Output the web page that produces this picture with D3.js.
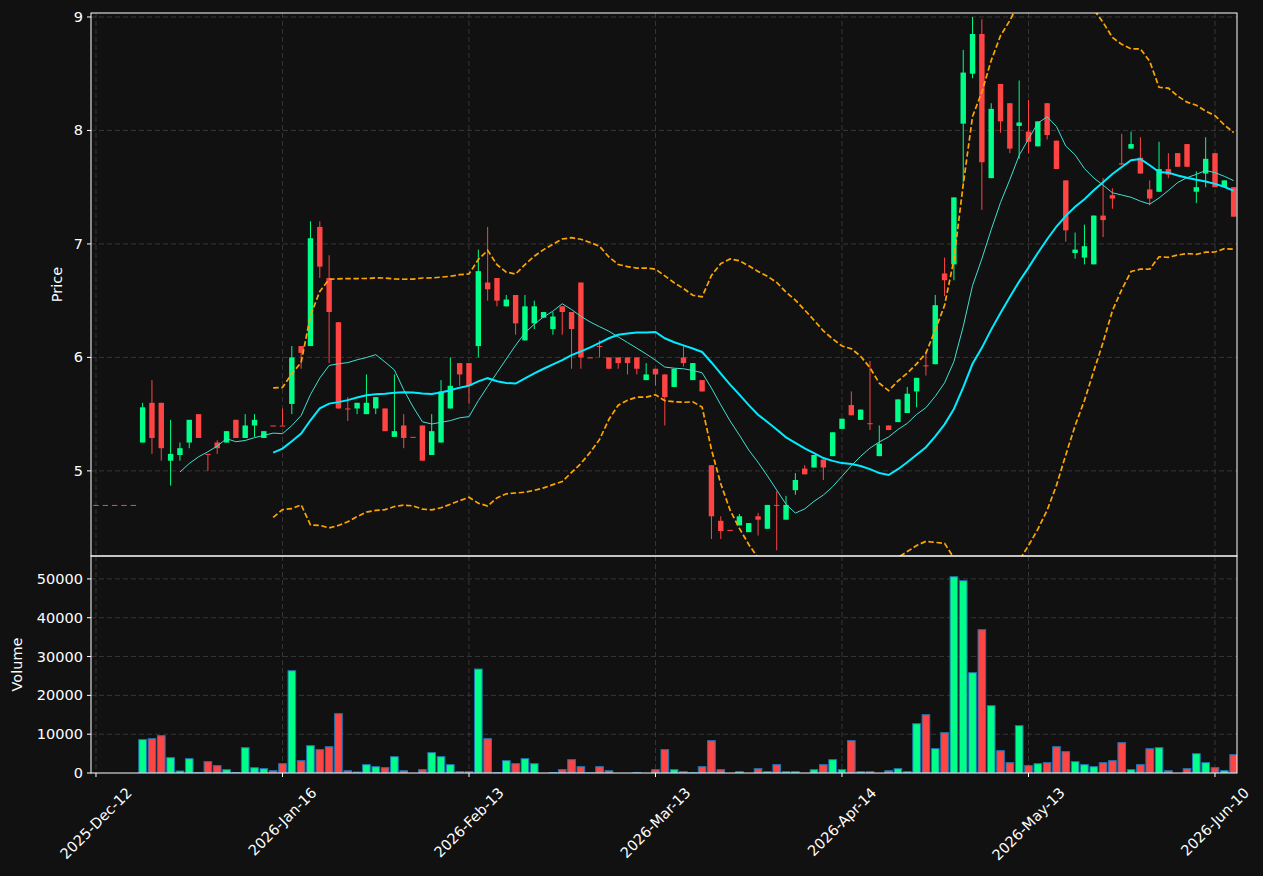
<!DOCTYPE html>
<html>
<head>
<meta charset="utf-8">
<script src="https://cdn.jsdelivr.net/npm/d3@7"></script>
<style>
  html, body { margin: 0; padding: 0; background: #111111; }
  svg { display: block; }
</style>
</head>
<body>
<svg id="chart" width="1263" height="876"></svg>
<script>
// ---------------- DATA ----------------
const xTickIndex = [0, 20, 40, 60, 80, 100, 120];
const xTickLabels = ["2025-Dec-12", "2026-Jan-16", "2026-Feb-13", "2026-Mar-13", "2026-Apr-14", "2026-May-13", "2026-Jun-10"];
const priceTicks = [5, 6, 7, 8, 9];
const volumeTicks = [0, 10000, 20000, 30000, 40000, 50000];

const opens = [4.70,4.70,4.70,4.70,4.70, 5.25,5.60,5.60,5.09,5.14, 5.25,5.50,5.15,5.25,5.25, 5.45,5.29,5.40,5.29,5.40,
  5.40,5.59,6.10,6.10,7.15, 6.70,6.31,5.55,5.55,5.50, 5.55,5.55,5.30,5.40,5.30, 5.40,5.14,5.25,5.55,5.95,
  5.95,6.10,6.66,6.70,6.45, 6.55,6.15,6.30,6.35,6.25, 6.45,6.40,6.66,6.00,6.10, 6.00,6.00,6.00,6.00,5.80,
  5.90,5.85,5.74,6.00,5.80, 5.80,5.05,4.56,4.48,4.52, 4.46,4.60,4.49,4.70,4.57, 4.83,5.02,5.03,5.10,5.13,
  5.37,5.58,5.45,5.42,5.13, 5.40,5.43,5.51,5.70,5.93, 5.94,6.74,6.82,8.06,8.50, 8.85,7.58,8.41,8.24,8.04,
  7.99,7.86,8.24,7.91,7.56, 6.92,6.88,6.82,7.25,7.43, 7.71,7.84,7.76,7.48,7.46, 7.66,7.80,7.88,7.46,7.62,
  7.80,7.50,7.50];
const highs = [4.70,4.70,4.70,4.70,4.70, 5.60,5.80,5.60,5.45,5.25, 5.45,5.50,5.15,5.27,5.35, 5.45,5.50,5.50,5.35,5.40,
  5.55,6.10,6.10,7.20,7.20, 6.90,6.31,5.65,5.60,5.85, 5.65,5.55,5.85,5.50,5.30, 5.40,5.50,5.80,6.00,5.95,
  5.95,6.95,7.15,6.70,6.55, 6.55,6.55,6.50,6.40,6.40, 6.45,6.40,6.66,6.00,6.15, 6.00,6.00,6.00,6.00,5.95,
  5.90,5.85,5.90,6.10,5.95, 5.80,5.05,4.60,4.48,4.62, 4.54,4.63,4.70,4.82,4.78, 4.98,5.05,5.14,5.10,5.34,
  5.46,5.70,5.54,5.97,5.40, 5.40,5.63,5.74,5.82,6.05, 6.55,6.88,7.41,8.71,9.00, 8.98,8.24,8.41,8.24,8.44,
  8.27,8.08,8.24,7.91,7.56, 7.10,7.17,7.25,7.58,7.49, 7.97,7.99,7.94,7.56,7.90, 7.80,7.80,7.88,7.64,7.94,
  7.80,7.56,7.50];
const lows = [4.70,4.70,4.70,4.70,4.70, 5.25,5.15,5.09,4.87,5.09, 5.20,5.29,5.00,5.15,5.25, 5.29,5.29,5.30,5.29,5.40,
  5.40,5.50,5.90,6.10,6.70, 5.95,5.55,5.44,5.50,5.50, 5.50,5.35,5.30,5.20,5.30, 5.09,5.14,5.25,5.55,5.75,
  5.59,6.00,6.50,6.45,6.45, 6.20,6.15,6.25,6.35,6.20, 6.20,5.90,5.90,6.00,6.00, 5.90,5.90,5.85,5.85,5.80,
  5.75,5.40,5.74,5.92,5.80, 5.70,4.40,4.40,4.48,4.52, 4.46,4.43,4.49,4.30,4.57, 4.79,4.97,5.03,4.92,5.13,
  5.37,5.49,5.45,5.36,5.13, 5.36,5.43,5.51,5.56,5.84, 5.94,6.54,6.68,7.54,8.46, 7.30,7.58,7.98,7.80,7.75,
  7.80,7.86,7.92,7.66,7.02, 6.87,6.82,6.82,7.06,7.31, 7.70,7.84,7.62,7.34,7.46, 7.58,7.68,7.68,7.36,7.50,
  7.50,7.50,7.24];
const closes = [4.70,4.70,4.70,4.70,4.70, 5.56,5.29,5.20,5.15,5.20, 5.45,5.29,5.15,5.20,5.35, 5.29,5.40,5.45,5.35,5.40,
  5.40,6.00,6.04,7.05,6.80, 6.40,5.55,5.55,5.60,5.60, 5.65,5.35,5.35,5.29,5.30, 5.09,5.35,5.70,5.75,5.85,
  5.75,6.76,6.60,6.50,6.51, 6.30,6.45,6.45,6.40,6.36, 6.40,6.25,6.00,6.00,6.10, 5.90,5.95,5.95,5.90,5.85,
  5.85,5.65,5.90,5.95,5.95, 5.70,4.60,4.47,4.48,4.60, 4.54,4.57,4.70,4.70,4.70, 4.92,4.97,5.14,5.03,5.34,
  5.46,5.49,5.54,5.42,5.24, 5.36,5.63,5.68,5.82,5.93, 6.46,6.68,7.41,8.51,8.85, 7.72,8.19,8.08,7.84,8.07,
  7.90,8.08,7.96,7.66,7.12, 6.95,6.98,7.25,7.21,7.40, 7.70,7.88,7.62,7.40,7.66, 7.61,7.68,7.68,7.50,7.75,
  7.50,7.56,7.24];
const volumes = [0,0,0,0,0, 8600,8840,9610,3950,515, 3690,150,2920,1890,860, 100,6520,1370,1120,600,
  2400,26350,3180,7040,6010, 6780,15280,600,260,2150, 1630,1370,4200,600,0, 860,5240,4200,2150,340,
  340,26780,8840,90,3180, 2400,3690,2400,0,80, 860,3430,1630,50,1630, 600,0,0,80,0,
  860,6010,860,340,90, 1630,8330,860,0,340, 0,1120,340,2150,340, 340,0,860,2150,3430,
  860,8330,340,340,0, 600,1120,340,12700,15020, 6270,10390,50560,49530,25840, 36910,17340,5750,2660,12190,
  1890,2400,2660,6780,5490, 2920,2150,1630,2660,3180, 7810,860,2150,6270,6520, 600,0,1120,4980,2660,
  1370,600,4720];

// ---------------- LAYOUT ----------------
const W = 1263, H = 876;
const L = 91, R = 1237;
const pTop = 13, pBot = 556, vTop = 556, vBot = 773;
const UP = "#00ff88", DOWN = "#ff4444";
const TXT = "#ffffff", GRID = "#404040";
const FS = 14.5;

const svg = d3.select("#chart");
svg.append("rect").attr("width", W).attr("height", H).attr("fill", "#111111");

const n = closes.length;
const x = d3.scaleLinear().domain([-0.536, 122.36]).range([L, R]);
const pitch = x(1) - x(0);
const yP = d3.scaleLinear().domain([4.25, 9.035]).range([pBot, pTop]);
const yV = d3.scaleLinear().domain([0, 55900]).range([vBot, vTop]);

// indicators derived from closes
function rolling(win, fn) {
  return closes.map((c, i) => i < win - 1 ? null : fn(closes.slice(i - win + 1, i + 1)));
}
const ma10 = rolling(10, a => d3.mean(a));
const ma20 = rolling(20, a => d3.mean(a));
const sd20 = rolling(20, a => { const m = d3.mean(a); return Math.sqrt(d3.mean(a, v => (v - m) * (v - m))); });
const upper = ma20.map((m, i) => m == null ? null : m + 2 * sd20[i]);
const lower = ma20.map((m, i) => m == null ? null : m - 2 * sd20[i]);

// clip paths
const defs = svg.append("defs");
defs.append("clipPath").attr("id", "clipP").append("rect")
  .attr("x", L).attr("y", pTop).attr("width", R - L).attr("height", pBot - pTop);
defs.append("clipPath").attr("id", "clipV").append("rect")
  .attr("x", L).attr("y", vTop).attr("width", R - L).attr("height", vBot - vTop);

// grids
const grid = svg.append("g").attr("stroke", GRID).attr("stroke-width", 0.8).attr("stroke-dasharray", "5,3");
priceTicks.forEach(t => grid.append("line").attr("x1", L).attr("x2", R).attr("y1", yP(t)).attr("y2", yP(t)));
volumeTicks.slice(1).forEach(t => grid.append("line").attr("x1", L).attr("x2", R).attr("y1", yV(t)).attr("y2", yV(t)));
xTickIndex.forEach(t => {
  grid.append("line").attr("x1", x(t)).attr("x2", x(t)).attr("y1", pTop).attr("y2", pBot);
  grid.append("line").attr("x1", x(t)).attr("x2", x(t)).attr("y1", vTop).attr("y2", vBot);
});

// candles
const idx = d3.range(n);
const cg = svg.append("g").attr("clip-path", "url(#clipP)");
const colorOf = i => closes[i] > opens[i] ? UP : DOWN;
cg.selectAll("line.wick").data(idx).join("line")
  .attr("x1", i => x(i)).attr("x2", i => x(i))
  .attr("y1", i => yP(highs[i])).attr("y2", i => yP(lows[i]))
  .attr("stroke", colorOf).attr("stroke-width", 1);
const bw = pitch * 0.58;
cg.selectAll("rect.body").data(idx).join("rect")
  .attr("x", i => x(i) - bw / 2).attr("width", bw)
  .attr("y", i => yP(Math.max(opens[i], closes[i])))
  .attr("height", i => Math.max(1, Math.abs(yP(opens[i]) - yP(closes[i]))))
  .attr("fill", colorOf);

// indicator lines
const lg = svg.append("g").attr("clip-path", "url(#clipP)").attr("fill", "none");
const lineOf = arr => d3.line().defined(i => arr[i] != null).x(i => x(i)).y(i => yP(arr[i]))(idx);
lg.append("path").attr("d", lineOf(upper)).attr("stroke", "#ffa500").attr("stroke-width", 1.7).attr("stroke-dasharray", "5.5,2.6");
lg.append("path").attr("d", lineOf(lower)).attr("stroke", "#ffa500").attr("stroke-width", 1.7).attr("stroke-dasharray", "5.5,2.6");
lg.append("path").attr("d", lineOf(ma10)).attr("stroke", "#40e0d0").attr("stroke-width", 1);
lg.append("path").attr("d", lineOf(ma20)).attr("stroke", "#00ecff").attr("stroke-width", 2);

// volume bars
const vg = svg.append("g").attr("clip-path", "url(#clipV)");
const vbw = pitch * 0.82;
vg.selectAll("rect").data(idx.filter(i => volumes[i] > 0)).join("rect")
  .attr("x", i => x(i) - vbw / 2).attr("width", vbw)
  .attr("y", i => yV(volumes[i])).attr("height", i => yV(0) - yV(volumes[i]))
  .attr("fill", colorOf).attr("stroke", "#1f77b4").attr("stroke-width", 1);

// frames
[[pTop, pBot], [vTop, vBot]].forEach(([t, b]) => {
  svg.append("rect").attr("x", L).attr("y", t).attr("width", R - L).attr("height", b - t)
    .attr("fill", "none").attr("stroke", TXT).attr("stroke-width", 1);
});

// y axes
const ax = svg.append("g").attr("fill", TXT)
  .style("font-size", FS + "px").style("font-family", "'DejaVu Sans', sans-serif");
priceTicks.forEach(t => {
  svg.append("line").attr("x1", L - 4).attr("x2", L).attr("y1", yP(t)).attr("y2", yP(t)).attr("stroke", TXT);
  ax.append("text").attr("x", L - 8).attr("y", yP(t)).attr("text-anchor", "end").attr("dominant-baseline", "central").text(t);
});
volumeTicks.forEach(t => {
  svg.append("line").attr("x1", L - 4).attr("x2", L).attr("y1", yV(t)).attr("y2", yV(t)).attr("stroke", TXT);
  ax.append("text").attr("x", L - 8).attr("y", yV(t)).attr("text-anchor", "end").attr("dominant-baseline", "central").text(t);
});
ax.append("text").attr("transform", `translate(57,${(pTop + pBot) / 2}) rotate(-90)`)
  .attr("text-anchor", "middle").attr("dominant-baseline", "central").text("Price");
ax.append("text").attr("transform", `translate(17,${(vTop + vBot) / 2}) rotate(-90)`)
  .attr("text-anchor", "middle").attr("dominant-baseline", "central").text("Volume");

// x axis ticks + rotated labels
xTickIndex.forEach((t, k) => {
  const xx = x(t);
  svg.append("line").attr("x1", xx).attr("x2", xx).attr("y1", vBot).attr("y2", vBot + 4).attr("stroke", TXT);
  const txt = ax.append("text").attr("text-anchor", "middle").attr("dominant-baseline", "central").text(xTickLabels[k]);
  const len = txt.node().getComputedTextLength();
  const half = (len + FS) * Math.SQRT1_2 / 2;
  txt.attr("transform", `translate(${xx},${vBot + 12 + half}) rotate(-45)`);
});
</script>
</body>
</html>
